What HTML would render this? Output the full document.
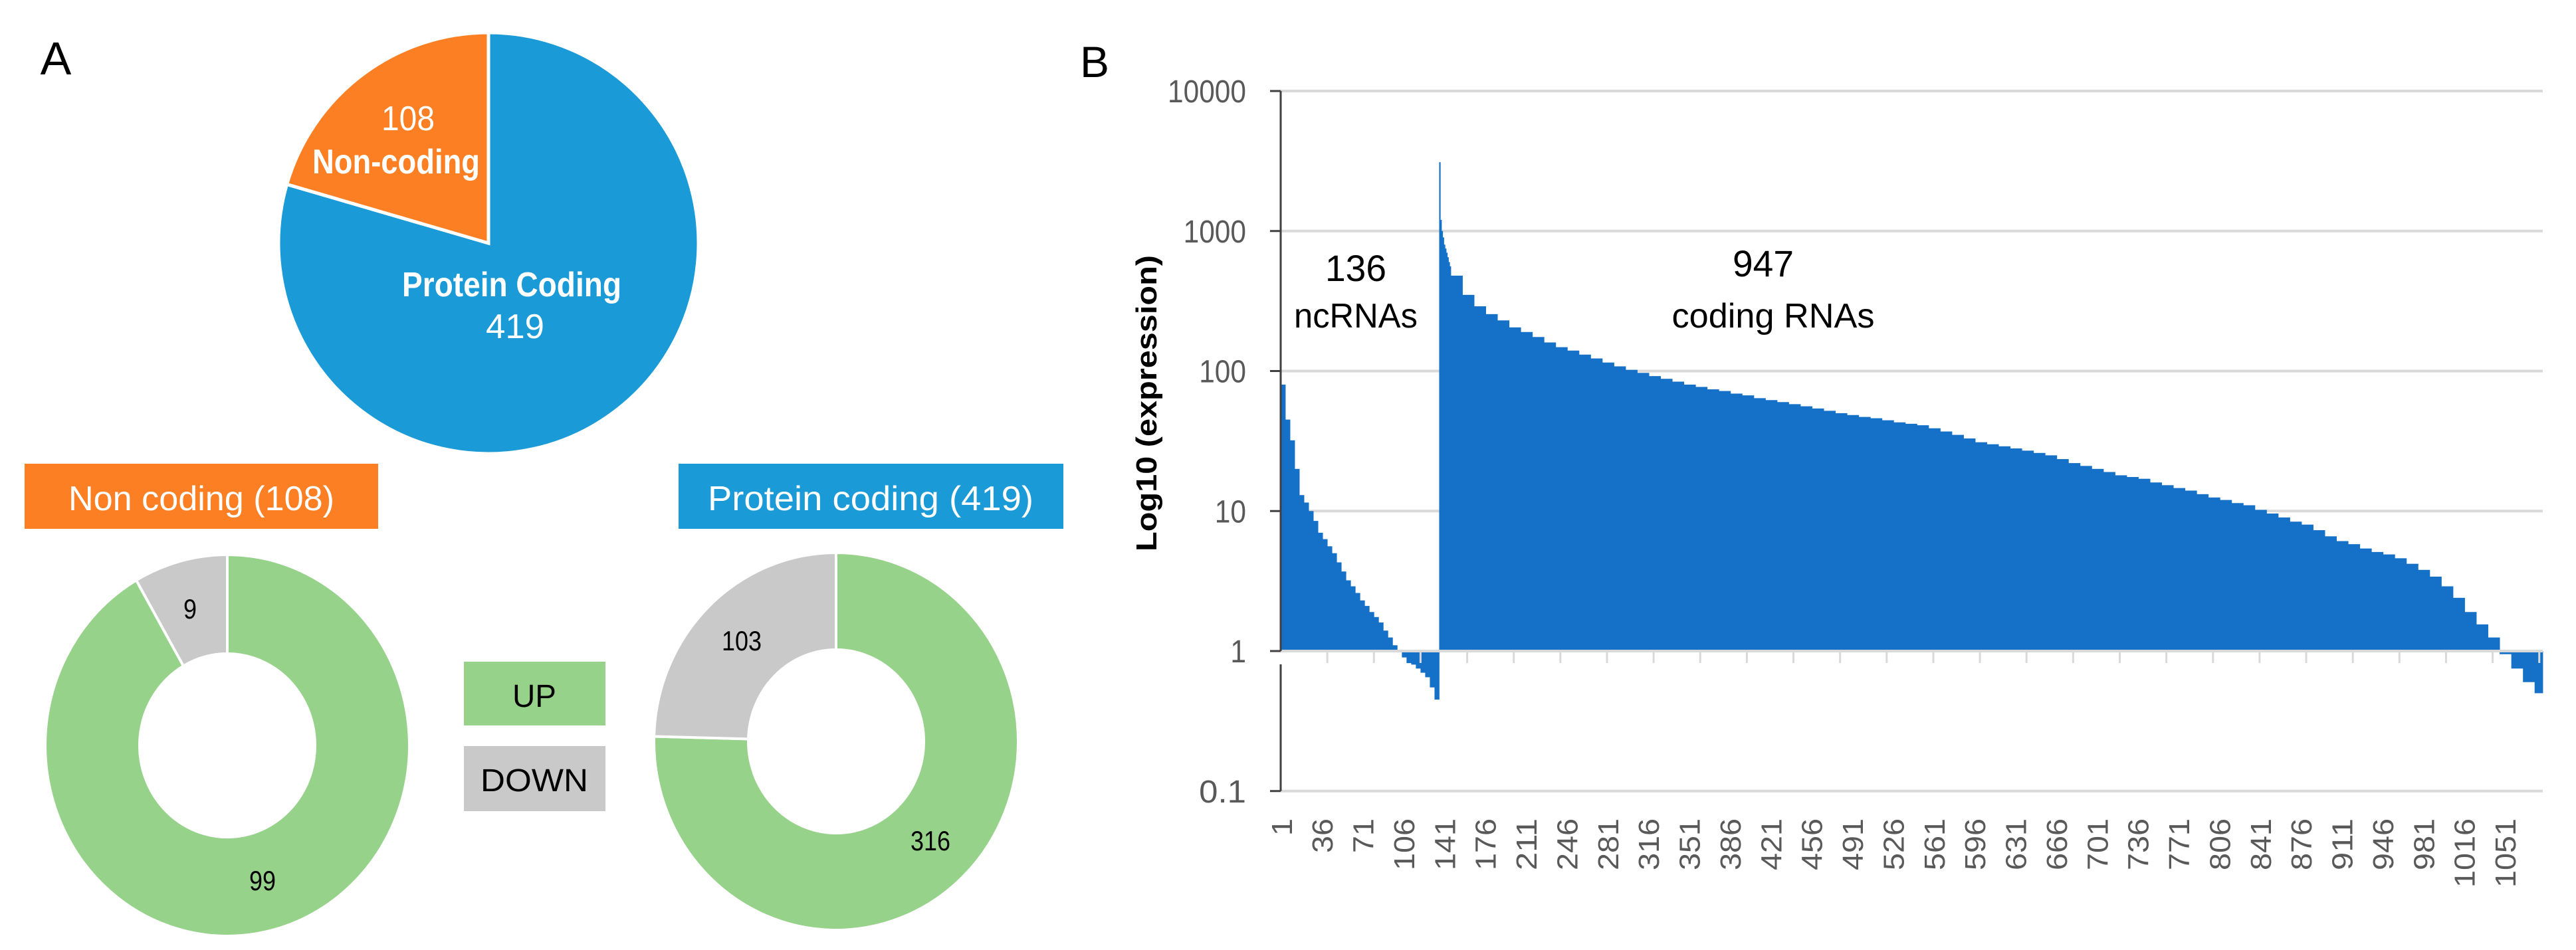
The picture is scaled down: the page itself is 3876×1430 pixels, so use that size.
<!DOCTYPE html>
<html><head><meta charset="utf-8"><style>
html,body{margin:0;padding:0;background:#fff;}
svg{display:block;}
text{font-family:"Liberation Sans",sans-serif;}
</style></head><body>
<svg id="fig" width="3876" height="1430" viewBox="0 0 3876 1430" xmlns="http://www.w3.org/2000/svg">
<g id="panelA">
<text x="84" y="112" font-size="70" fill="#000" text-anchor="middle">A</text>
<g id="topPie"></g>
<rect x="37" y="698" width="532" height="98" fill="#fd7f23"/>
<text x="303" y="768" font-size="52" fill="#fff" text-anchor="middle" textLength="400" lengthAdjust="spacingAndGlyphs">Non coding (108)</text>
<rect x="1021" y="698" width="579" height="98" fill="#1a9bd7"/>
<text x="1310" y="768" font-size="52" fill="#fff" text-anchor="middle" textLength="490" lengthAdjust="spacingAndGlyphs">Protein coding (419)</text>
<g id="donut1"></g>
<g id="donut2"></g>
<rect x="698" y="996" width="213" height="96" fill="#97d28b"/>
<text x="804" y="1064" font-size="48" fill="#000" text-anchor="middle" textLength="66" lengthAdjust="spacingAndGlyphs">UP</text>
<rect x="698" y="1123" width="213" height="98" fill="#c9c9c9"/>
<text x="804" y="1191" font-size="48" fill="#000" text-anchor="middle" textLength="162" lengthAdjust="spacingAndGlyphs">DOWN</text>
</g>
<g id="panelB">
<text x="1647" y="116" font-size="66" fill="#000" text-anchor="middle">B</text>
<text transform="translate(1740,607) rotate(-90)" font-size="44" font-weight="bold" fill="#000" text-anchor="middle" textLength="446" lengthAdjust="spacingAndGlyphs">Log10 (expression)</text>
<g id="grid"></g>
<g id="bars"></g>
<g id="axes"></g>
<text x="2040" y="423" font-size="56" fill="#000" text-anchor="middle" textLength="92" lengthAdjust="spacingAndGlyphs">136</text>
<text x="2040" y="493" font-size="52" fill="#000" text-anchor="middle" textLength="186" lengthAdjust="spacingAndGlyphs">ncRNAs</text>
<text x="2653" y="416" font-size="56" fill="#000" text-anchor="middle" textLength="92" lengthAdjust="spacingAndGlyphs">947</text>
<text x="2668" y="493" font-size="52" fill="#000" text-anchor="middle" textLength="305" lengthAdjust="spacingAndGlyphs">coding RNAs</text>
</g>
</svg>
<script>
// ---- Panel A data ----
const pieCategories = ["Non-coding", "Protein Coding"];
const pieValues = [108, 419];
const ncDonutValues = [99, 9];      // UP, DOWN
const pcDonutValues = [316, 103];   // UP, DOWN
// ---- Panel B data ----
const ncGroupSize = 4;
const ncValues = [80,45,32,20,13,11.5,10,8.5,7,6.3,5.6,5,4.3,3.7,3.2,2.9,2.6,2.3,2.1,1.9,1.75,1.6,1.4,1.25,1.1,1.0,0.9,0.82,0.8,0.75,0.7,0.65,0.55,0.45];
const codingHeadValues = [3100,1200,1000,900,800,750,700,650,600,560];
const codingGroupSize = 10;
const codingValues = [480,350,290,255,230,205,190,175,160,148,140,131,123,115,108,102,97,92,88,84,80,77,74,72,69,67,64,62,60,58,56,54,52,50,48.5,47,46,44.5,43,42,41,39,37,35,33,31,30,29,28,27,26,25,23.5,22,21,20,19,18,17.5,17,16,15.3,14.6,14,13.2,12.5,12,11.4,11,10.2,9.6,9,8.4,8,7.3,6.6,6.1,5.8,5.4,5.1,4.9,4.6,4.2,3.8,3.4,2.9,2.4,1.9,1.55,1.25,0.95,0.75,0.6,0.5];
const ncCount = 136, codingCount = 947;
const yTicks = [10000,1000,100,10,1,0.1];
const yTickLabels = ["10000","1000","100","10","1","0.1"];
const xLabelStep = 35, xTickStep = 40;

const NS = "http://www.w3.org/2000/svg";
function mk(tag, attrs, parent){const e=document.createElementNS(NS,tag);for(const k in attrs)e.setAttribute(k,attrs[k]);parent.appendChild(e);return e;}

// ---- pies ----
function arcPath(cx,cy,rx,ry,irx,iry,a0,a1){
  const p=(r1,r2,a)=>[cx+r1*Math.sin(a),cy-r2*Math.cos(a)];
  const large=(a1-a0)>Math.PI?1:0;
  const [x0,y0]=p(rx,ry,a0),[x1,y1]=p(rx,ry,a1);
  if(irx===0) return `M${cx},${cy}L${x0},${y0}A${rx},${ry} 0 ${large} 1 ${x1},${y1}Z`;
  const [x2,y2]=p(irx,iry,a1),[x3,y3]=p(irx,iry,a0);
  return `M${x0},${y0}A${rx},${ry} 0 ${large} 1 ${x1},${y1}L${x2},${y2}A${irx},${iry} 0 ${large} 0 ${x3},${y3}Z`;
}
(function(){
  const g=document.getElementById('topPie');
  const tot=pieValues[0]+pieValues[1];
  const aNc=pieValues[0]/tot*2*Math.PI;
  const s1=mk('path',{d:arcPath(735,366,316,317,0,0,0,2*Math.PI-aNc),fill:'#1a9bd7',stroke:'#fff','stroke-width':5},g);
  
  
  const s2=mk('path',{d:arcPath(735,366,316,317,0,0,2*Math.PI-aNc,2*Math.PI),fill:'#fd7f23',stroke:'#fff','stroke-width':5},g);
  
  
  const labs=[[614,196,String(pieValues[0]),false,80],[596,261,pieCategories[0],true,252],[770,446,pieCategories[1],true,330],[775,509,String(pieValues[1]),false,88]];
  labs.forEach(l=>{const t=mk('text',{x:l[0],y:l[1],'font-size':52,fill:'#fff','text-anchor':'middle','font-weight':l[3]?'bold':'normal',textLength:l[4],lengthAdjust:'spacingAndGlyphs'},g);t.textContent=l[2];
    
    });
})();
function donut(id,vals,cx,cy,rx,ry,irx,iry,labels){
  const g=document.getElementById(id);
  const tot=vals[0]+vals[1];
  const aDown=vals[1]/tot*2*Math.PI;
  const up=mk('path',{d:arcPath(cx,cy,rx,ry,irx,iry,0,2*Math.PI-aDown),fill:'#97d28b',stroke:'#fff','stroke-width':4},g);
  
  
  const dn=mk('path',{d:arcPath(cx,cy,rx,ry,irx,iry,2*Math.PI-aDown,2*Math.PI),fill:'#c9c9c9',stroke:'#fff','stroke-width':4},g);
  
  
  labels.forEach((l,i)=>{const t=mk('text',{x:l[0],y:l[1],'font-size':42,fill:'#000','text-anchor':'middle',textLength:l[2],lengthAdjust:'spacingAndGlyphs'},g);t.textContent=String(vals[i]);
    
    });
}
donut('donut1',ncDonutValues,342,1122,274,287,132,138,[[395,1340,40],[286,931,20]]);
donut('donut2',pcDonutValues,1258,1116,274,284,132,138,[[1400,1280,60],[1116,979,60]]);

// ---- bar chart ----
const plotL=1927, plotR=3826, yTop=137, yOne=980, decade=(yOne-yTop)/4;
const total=ncCount+codingCount;
const bw=(plotR-plotL)/total;
const xPos=i=>plotL+i*bw;             // i = 0-based item index (left edge)
const yPos=v=>yOne-Math.log10(v)*decade;
const grid=document.getElementById('grid'), axes=document.getElementById('axes'), bars=document.getElementById('bars');
yTicks.forEach((v,i)=>{
  const y=yPos(v);
  if(v!==1){const gl=mk('line',{x1:plotL,x2:plotR,y1:y,y2:y,stroke:'#d9d9d9','stroke-width':4},grid);
    
    }
  const tk=mk('line',{x1:plotL-16,x2:plotL,y1:y,y2:y,stroke:'#404040','stroke-width':3},axes);
  
  
  const t=mk('text',{x:plotL-52,y:y+17,'font-size':48,fill:'#595959','text-anchor':'end',textLength:yTickLabels[i].length*23.6,lengthAdjust:'spacingAndGlyphs'},axes);
  t.textContent=yTickLabels[i];
  
  
});
function bar(i0,n,v){
  const y=yPos(v);
  const r=mk('rect',{x:xPos(i0),width:n*bw+0.4,y:Math.min(y,yOne),height:Math.max(Math.abs(y-yOne),1),fill:'#1571c8'},bars);
  
  
}
ncValues.forEach((v,k)=>{const i0=k*ncGroupSize;bar(i0,Math.min(ncGroupSize,ncCount-i0),v);});
codingHeadValues.forEach((v,k)=>bar(ncCount+k,1,v));
codingValues.forEach((v,k)=>{const i0=ncCount+codingHeadValues.length+k*codingGroupSize;bar(i0,Math.min(codingGroupSize,total-i0),v);});
// baseline (value 1) and axis
const bl=mk('line',{x1:plotL,x2:plotR,y1:yOne,y2:yOne,stroke:'#d9d9d9','stroke-width':4},axes);


const ya=mk('line',{x1:plotL,x2:plotL,y1:yTop,y2:yOne,stroke:'#404040','stroke-width':3},axes);


const ya2=mk('line',{x1:plotL,x2:plotL,y1:yOne+20,y2:yPos(0.1),stroke:'#404040','stroke-width':3},axes);


for(let i=xTickStep;i<total;i+=xTickStep){
  const x=xPos(i);
  const tk=mk('line',{x1:x,x2:x,y1:yOne,y2:yOne+18,stroke:'#d9d9d9','stroke-width':3},axes);
  
  
}
for(let n=1;n<=total;n+=xLabelStep){
  const x=xPos(n-0.5);
  const s=String(n);
  const t=mk('text',{transform:`translate(${x+16},1232) rotate(-90)`,'font-size':44,fill:'#595959','text-anchor':'end',textLength:s.length*26,lengthAdjust:'spacingAndGlyphs'},axes);
  t.textContent=s;
  
  
}
</script>
</body></html>
